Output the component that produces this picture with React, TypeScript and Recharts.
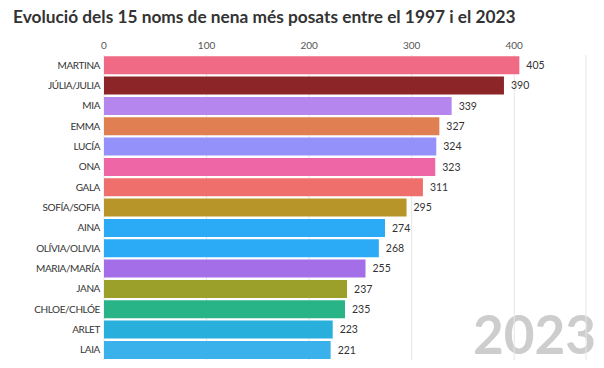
import { BarChart, Bar, XAxis, YAxis, CartesianGrid, Cell, LabelList } from "recharts";

const names = [
  "MARTINA",
  "JÚLIA/JULIA",
  "MIA",
  "EMMA",
  "LUCÍA",
  "ONA",
  "GALA",
  "SOFÍA/SOFIA",
  "AINA",
  "OLÍVIA/OLIVIA",
  "MARIA/MARÍA",
  "JANA",
  "CHLOE/CHLÓE",
  "ARLET",
  "LAIA",
];
const counts = [405, 390, 339, 327, 324, 323, 311, 295, 274, 268, 255, 237, 235, 223, 221];
const colors = [
  "#F06A85",
  "#8B2527",
  "#B486EE",
  "#E08052",
  "#9491FA",
  "#EE66A6",
  "#EF6F6C",
  "#B89529",
  "#2BAAF6",
  "#2BAAF6",
  "#A56EE9",
  "#9BA02A",
  "#29B487",
  "#28AFDC",
  "#3BB1EC",
];
const xTicks = [0, 100, 200, 300, 400];
const year = "2023";

const data = names.map((name, i) => ({ name, value: counts[i] }));
const font = "Lato, 'Open Sans', sans-serif";

export default function App() {
  return (
    <div style={{ position: "relative", width: 604, height: 368, margin: -8, fontFamily: font, background: "#fff" }}>
      <div
        style={{
          position: "absolute",
          left: 13,
          top: 6,
          fontSize: 17.3,
          fontWeight: 700,
          color: "#333",
          whiteSpace: "nowrap",
        }}
      >
        Evolució dels 15 noms de nena més posats entre el 1997 i el 2023
      </div>
      <div
        style={{
          position: "absolute",
          right: 8,
          top: 302,
          fontSize: 53,
          fontWeight: 700,
          color: "#cdcdcd",
          lineHeight: "64px",
        }}
      >
        {year}
      </div>
      <BarChart
        width={604}
        height={368}
        data={data}
        layout="vertical"
        margin={{ top: 30, right: 18, bottom: 8, left: 0 }}
        barCategoryGap="6%"
      >
        <CartesianGrid horizontal={false} stroke="#e6e6e6" />
        <XAxis
          type="number"
          orientation="top"
          domain={[0, 470]}
          ticks={xTicks}
          height={25}
          axisLine={false}
          tickLine={false}
          tickSize={0}
          tickMargin={6}
          tick={{ fontSize: 10, fill: "#555", fontFamily: font }}
        />
        <YAxis
          type="category"
          dataKey="name"
          width={104}
          axisLine={false}
          tickLine={false}
          tickSize={0}
          tickMargin={4}
          interval={0}
          tick={{ fontSize: 10, fill: "#333", fontFamily: font, letterSpacing: -0.4 }}
        />
        <Bar dataKey="value" isAnimationActive={false}>
          {data.map((d, i) => (
            <Cell key={d.name} fill={colors[i]} />
          ))}
          <LabelList
            dataKey="value"
            position="right"
            offset={7}
            style={{ fontSize: 10.5, fill: "#333", fontFamily: font }}
          />
        </Bar>
      </BarChart>
    </div>
  );
}
